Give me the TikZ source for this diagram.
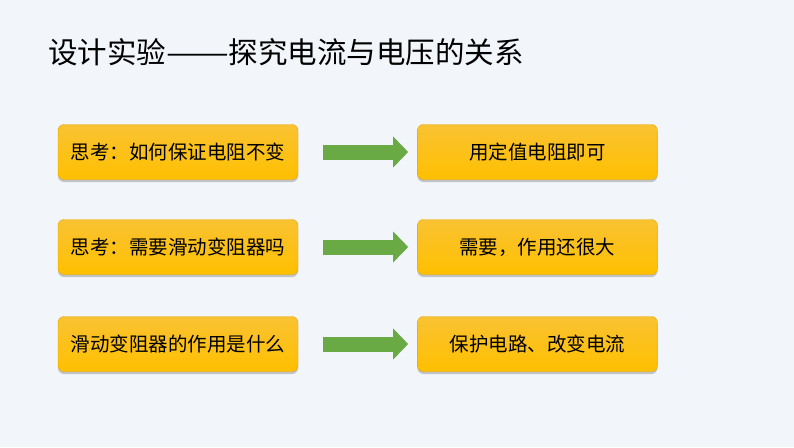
\documentclass[tikz,border=0pt]{standalone}
\usepackage{fontspec}
\usepackage{graphicx}
\newfontfamily\cjk{Noto Sans CJK SC}
\usetikzlibrary{positioning,arrows.meta,shadows}

\definecolor{bgcol}{HTML}{F2F5F9}
\definecolor{boxtop}{HTML}{F9C232}
\definecolor{boxbot}{HTML}{FFC000}
\definecolor{boxline}{HTML}{E8A600}
\definecolor{arrowgreen}{HTML}{6AAA44}

\begin{document}
\begin{tikzpicture}[x=1pt,y=-1pt,
    every node/.style={font=\cjk\fontsize{19.5}{22}\selectfont, text=black},
    box/.style={draw=boxline, line width=0.4pt, rounded corners=6pt,
      minimum width=240pt, minimum height=55pt, inner sep=0pt,
      top color=boxtop, bottom color=boxbot,
      drop shadow={shadow xshift=0pt, shadow yshift=-2.5pt, opacity=0.35, fill=black!60}},
    bigarrow/.style={draw=arrowgreen, line width=15pt, line cap=butt,
      -{Triangle[length=15pt,width=30pt]}}]
  \def\gapl{25} % luft vor dem pfeil
  \def\gapr{9}  % luft nach dem pfeil

  % hintergrund
  \fill[bgcol] (0,0) rectangle (794,447);
  \useasboundingbox (0,0) rectangle (794,447);

  % titel
  \node[anchor=west, inner sep=0pt, font=\cjk\fontsize{29.5}{32}\selectfont] (title) at (48,52)
    {设计实验\scalebox{1.27}[1]{——}探究电流与电压的关系};

  % linke spalte
  \node[box] (q1) at (178,152) {思考：如何保证电阻不变};
  \node[box] (q2) at (178,247) {思考：需要滑动变阻器吗};
  \node[box] (q3) at (178,344) {滑动变阻器的作用是什么};

  % rechte spalte
  \node[box, right=119pt of q1] (a1) {用定值电阻即可};
  \node[box, right=119pt of q2] (a2) {需要，作用还很大};
  \node[box, right=119pt of q3] (a3) {保护电路、改变电流};

  % pfeile
  \foreach \i in {1,2,3}{
    \draw[bigarrow] ([xshift=\gapl pt]q\i.east) -- ([xshift=-\gapr pt]a\i.west);
  }
\end{tikzpicture}
\end{document}
